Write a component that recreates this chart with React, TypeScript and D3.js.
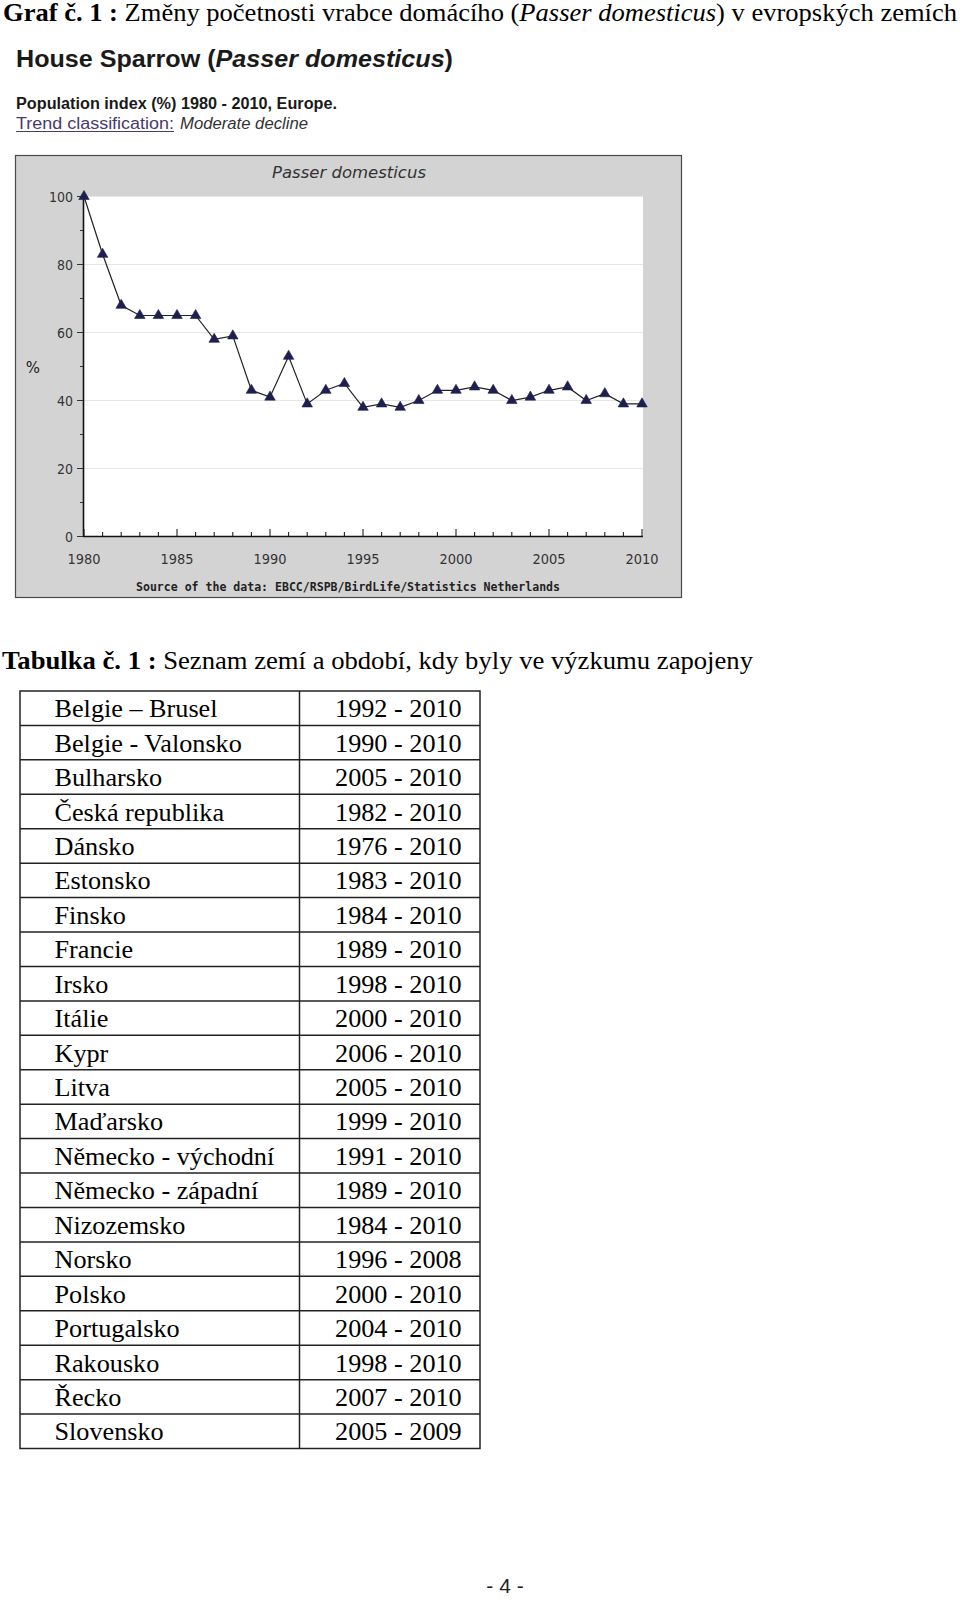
import React from "react";
import * as d3 from "d3";

const years: number[] = [1980,1981,1982,1983,1984,1985,1986,1987,1988,1989,1990,1991,1992,1993,1994,1995,1996,1997,1998,1999,2000,2001,2002,2003,2004,2005,2006,2007,2008,2009,2010];
const indexValues: number[] = [100,83,68,65,65,65,65,58,59,43,41,53,39,43,45,38,39,38,40,43,43,44,43,40,41,43,44,40,42,39,39];
const yTicks: number[] = [0,20,40,60,80,100];
const yMinorTicks: number[] = [10,30,50,70,90];
const xLabelYears: number[] = [1980,1985,1990,1995,2000,2005,2010];

const countries: string[] = ["Belgie – Brusel","Belgie - Valonsko","Bulharsko","Česká republika","Dánsko","Estonsko","Finsko","Francie","Irsko","Itálie","Kypr","Litva","Maďarsko","Německo - východní","Německo - západní","Nizozemsko","Norsko","Polsko","Portugalsko","Rakousko","Řecko","Slovensko"];
const periods: string[] = ["1992 - 2010","1990 - 2010","2005 - 2010","1982 - 2010","1976 - 2010","1983 - 2010","1984 - 2010","1989 - 2010","1998 - 2010","2000 - 2010","2006 - 2010","2005 - 2010","1999 - 2010","1991 - 2010","1989 - 2010","1984 - 2010","1996 - 2008","2000 - 2010","2004 - 2010","1998 - 2010","2007 - 2010","2005 - 2009"];

export default function App() {
  const x = d3.scaleLinear().domain([1980, 2010]).range([84, 642]);
  const y = d3.scaleLinear().domain([0, 100]).range([536.5, 196.5]);
  const line = d3.line<number>().x((_, i) => x(years[i])).y((v) => y(v));
  const tri = d3.symbol().type(d3.symbolTriangle).size(48)();

  const tableTop = 691;
  const tableBottom = 1448.5;
  const rowH = (tableBottom - tableTop) / countries.length;
  const tL = 20, tM = 299.5, tR = 480;
  const serif = "'Liberation Serif', 'Times New Roman', serif";
  const sans = "'Liberation Sans', Arial, sans-serif";
  const chartFont = "'DejaVu Sans', Verdana, sans-serif";

  return (
    <svg width={960} height={1600} style={{ position: "absolute", left: 0, top: 0, background: "#fff" }}>
      <rect x={0} y={0} width={960} height={1600} fill="#fff" />
      {/* Page heading */}
      <text x={3} y={21} fontFamily={serif} fontSize={25} fill="#000" textLength={954} lengthAdjust="spacingAndGlyphs">
        <tspan fontWeight="bold">Graf č. 1 :</tspan>
        <tspan> Změny početnosti vrabce domácího (</tspan>
        <tspan fontStyle="italic">Passer domesticus</tspan>
        <tspan>) v evropských zemích</tspan>
      </text>

      {/* Screenshot header */}
      <text x={16} y={67} fontFamily={sans} fontSize={23} fontWeight="bold" fill="#1a1a1a" textLength={437} lengthAdjust="spacingAndGlyphs">
        <tspan>House Sparrow (</tspan>
        <tspan fontStyle="italic">Passer domesticus</tspan>
        <tspan>)</tspan>
      </text>
      <text x={16} y={109} fontFamily={sans} fontSize={16} fontWeight="bold" fill="#1a1a1a" textLength={321} lengthAdjust="spacingAndGlyphs">
        Population index (%) 1980 - 2010, Europe.
      </text>
      <text x={16} y={129} fontFamily={sans} fontSize={16} fill="#4a3a6e" textLength={158} lengthAdjust="spacingAndGlyphs">
        Trend classification:
      </text>
      <line x1={16} x2={174} y1={131.5} y2={131.5} stroke="#4a3a6e" strokeWidth={1.2} />
      <text x={180} y={129} fontFamily={sans} fontSize={16} fontStyle="italic" fill="#333" textLength={128} lengthAdjust="spacingAndGlyphs">
        Moderate decline
      </text>

      {/* Chart frame */}
      <rect x={15.5} y={155.5} width={666} height={442} fill="#d3d3d3" stroke="#4a4a4a" strokeWidth={1.2} />
      <rect x={84} y={196.5} width={559} height={340} fill="#fff" />
      <text x={349} y={178} textAnchor="middle" fontFamily={chartFont} fontSize={16.5} fontStyle="italic" fill="#333">
        Passer domesticus
      </text>
      {/* gridlines */}
      {yTicks.filter((t) => t > 0 && t < 100).map((t) => (
        <line key={"g" + t} x1={84} x2={643} y1={y(t)} y2={y(t)} stroke="#e6e6e6" strokeWidth={1} />
      ))}
      {/* y axis */}
      <line x1={83.5} x2={83.5} y1={196} y2={537} stroke="#111" strokeWidth={1.6} />
      {yTicks.map((t) => (
        <g key={"yt" + t}>
          <line x1={77} x2={83} y1={y(t)} y2={y(t)} stroke="#333" strokeWidth={1} />
          <text x={73} y={y(t) + 5} textAnchor="end" fontFamily={chartFont} fontSize={13.5} fill="#333" textLength={t === 100 ? 24 : t === 0 ? 8 : 16} lengthAdjust="spacingAndGlyphs">{t}</text>
        </g>
      ))}
      {yMinorTicks.map((t) => (
        <line key={"ym" + t} x1={80} x2={83} y1={y(t)} y2={y(t)} stroke="#333" strokeWidth={1} />
      ))}
      <text x={33} y={373} textAnchor="middle" fontFamily={chartFont} fontSize={15} fill="#222">%</text>
      {/* x axis */}
      <line x1={83} x2={643} y1={536.5} y2={536.5} stroke="#111" strokeWidth={1.6} />
      {years.map((yr) => (
        <line key={"xt" + yr} x1={x(yr)} x2={x(yr)} y1={536} y2={yr % 5 === 0 ? 529 : 532} stroke="#222" strokeWidth={1.1} />
      ))}
      {xLabelYears.map((yr) => (
        <text key={"xl" + yr} x={x(yr)} y={563.5} textAnchor="middle" fontFamily={chartFont} fontSize={14} fill="#333" textLength={33} lengthAdjust="spacingAndGlyphs">{yr}</text>
      ))}
      {/* series */}
      <path d={line(indexValues) || ""} fill="none" stroke="#222" strokeWidth={1.2} />
      {indexValues.map((v, i) => (
        <path key={"m" + i} d={tri || ""} transform={`translate(${x(years[i])},${y(v)})`} fill="#1e1e4f" stroke="#1e1e4f" strokeWidth={0.6} />
      ))}
      <text x={136} y={590.5} fontFamily="'DejaVu Sans Mono', monospace" fontSize={11.5} fontWeight="bold" fill="#222" textLength={424} lengthAdjust="spacingAndGlyphs">
        Source of the data: EBCC/RSPB/BirdLife/Statistics Netherlands
      </text>

      {/* Table caption */}
      <text x={2} y={668.5} fontFamily={serif} fontSize={24.5} fill="#000" textLength={751} lengthAdjust="spacingAndGlyphs">
        <tspan fontWeight="bold">Tabulka č. 1 :</tspan>
        <tspan> Seznam zemí a období, kdy byly ve výzkumu zapojeny</tspan>
      </text>

      {/* Table */}
      <g stroke="#222" strokeWidth={1.5} fill="none">
        <rect x={tL} y={tableTop} width={tR - tL} height={tableBottom - tableTop} />
        <line x1={tM} x2={tM} y1={tableTop} y2={tableBottom} />
        {countries.slice(1).map((_, i) => (
          <line key={"rl" + i} x1={tL} x2={tR} y1={tableTop + (i + 1) * rowH} y2={tableTop + (i + 1) * rowH} />
        ))}
      </g>
      {countries.map((c, i) => (
        <g key={"row" + i}>
          <text transform={`translate(54.5,${tableTop + i * rowH + 26.3}) scale(1.07,1)`} fontFamily={serif} fontSize={24.5} fill="#000">{c}</text>
          <text transform={`translate(461.7,${tableTop + i * rowH + 26.3}) scale(1.07,1)`} textAnchor="end" fontFamily={serif} fontSize={24.5} fill="#000">{periods[i]}</text>
        </g>
      ))}

      {/* Page number */}
      <text x={505} y={1593} textAnchor="middle" fontFamily={sans} fontSize={21} fill="#222">- 4 -</text>
    </svg>
  );
}
